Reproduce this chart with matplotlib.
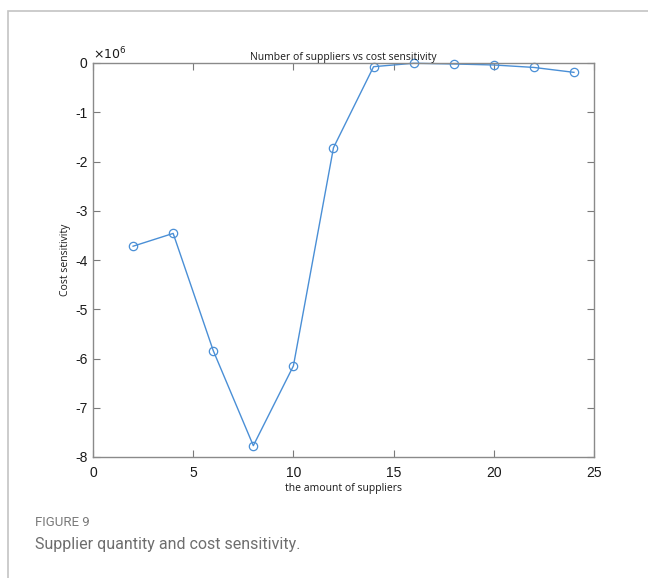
import matplotlib
matplotlib.use("Agg")
import matplotlib.pyplot as plt
from matplotlib.patches import Rectangle

suppliers = [2, 4, 6, 8, 10, 12, 14, 16, 18, 20, 22, 24]
cost_sensitivity = [-3.72e6, -3.46e6, -5.84e6, -7.77e6, -6.15e6, -1.72e6,
                    -0.075e6, -0.005e6, -0.02e6, -0.04e6, -0.09e6, -0.19e6]
xticks = [0, 5, 10, 15, 20, 25]
yticks = [0, -1, -2, -3, -4, -5, -6, -7, -8]

fig = plt.figure(figsize=(6.48, 5.78), dpi=100)
# outer frame (only left/top visible)
fig.patches.append(Rectangle((8/648, -0.1), 1.2, 1 - 11/578 + 0.1, transform=fig.transFigure,
                             fill=False, edgecolor="#c4c4c4", linewidth=1.2))

ax = fig.add_axes([93/648, 1 - 457/578, (594 - 93)/648, (457 - 63)/578])
ax.plot(suppliers, [v / 1e6 for v in cost_sensitivity], color="#4a8fd6", linewidth=1.0,
        marker="o", markersize=6, markerfacecolor="none", markeredgecolor="#4a8fd6",
        markeredgewidth=0.9, clip_on=False)
ax.set_xlim(0, 25)
ax.set_ylim(-8, 0)
ax.set_xticks(xticks)
ax.set_yticks(yticks)
ax.set_xticklabels([str(t) for t in xticks], family="Liberation Sans", fontsize=10)
ax.set_yticklabels([str(t) for t in yticks], family="Liberation Sans", fontsize=10)
ax.tick_params(direction="in", top=True, right=True, length=5, width=0.8,
               color="#7a7a7a", labelcolor="#1a1a1a")
ax.tick_params(axis="x", pad=6.5)
ax.tick_params(axis="y", pad=4)
for s in ax.spines.values():
    s.set_color("#8a8a8a")
    s.set_linewidth(1.0)

ax.set_title("Number of suppliers vs cost sensitivity", family="Open Sans", fontsize=7.5,
             color="#1a1a1a", pad=2)
ax.set_xlabel("the amount of suppliers", family="Open Sans", fontsize=7.5, color="#1a1a1a",
              labelpad=2)
ax.set_ylabel("Cost sensitivity", family="Open Sans", fontsize=7.5, color="#1a1a1a",
              labelpad=3)
ax.text(0.0, 1.002, r"$\times10^6$", transform=ax.transAxes, fontsize=9,
        family="Liberation Sans", color="#1a1a1a", ha="left", va="bottom")

fig.text(35/648, 1 - 522/578, "FIGURE 9", family="Roboto", fontsize=9.5,
         color="#7a7a7a", ha="left", va="center")
fig.text(35/648, 1 - 545/578, "Supplier quantity and cost sensitivity.", family="Roboto",
         fontsize=11.5, color="#6e6e6e", ha="left", va="center")

fig.savefig("out.png", dpi=100)
